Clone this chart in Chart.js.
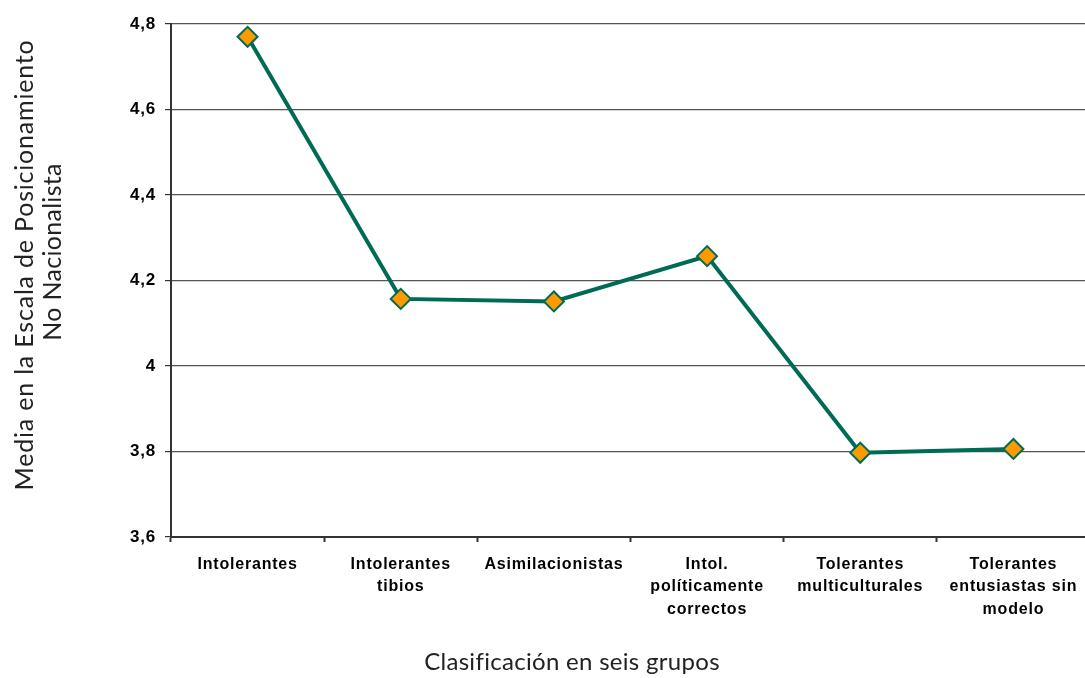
<!DOCTYPE html>
<html>
<head>
<meta charset="utf-8">
<script src="https://cdn.jsdelivr.net/npm/chart.js@4.4.0/dist/chart.umd.min.js"></script>
<style>
  html, body { margin: 0; padding: 0; background: #fff; overflow: hidden; }
  #wrap { width: 1090px; height: 678px; }
</style>
</head>
<body>
<div id="wrap"><canvas id="chart" width="1090" height="678"></canvas></div>
<script>
// Data
const groups = [
  ['Intolerantes'],
  ['Intolerantes', 'tibios'],
  ['Asimilacionistas'],
  ['Intol.', 'políticamente', 'correctos'],
  ['Tolerantes', 'multiculturales'],
  ['Tolerantes', 'entusiastas sin', 'modelo']
];
const meanValues = [4.77, 4.157, 4.151, 4.257, 3.797, 3.806];
const yTicks = [3.6, 3.8, 4.0, 4.2, 4.4, 4.6, 4.8];

const xTitle = 'Clasificación en seis grupos';
const yTitle = ['Media en la Escala de Posicionamiento', 'No Nacionalista'];

const tickFont = { family: "'Liberation Sans', Arial, sans-serif", size: 17, weight: 'bold' };

// Axis titles drawn in a humanist face, placed like the original
const axisTitles = {
  id: 'axisTitles',
  beforeDraw(chart) {
    chart.ctx.letterSpacing = '0.8px';
  },
  afterDraw(chart) {
    const ctx = chart.ctx;
    ctx.save();
    ctx.fillStyle = '#222222';
    ctx.textAlign = 'center';
    ctx.textBaseline = 'middle';
    ctx.letterSpacing = '0.3px';
    ctx.font = "24px Lato, 'Open Sans', sans-serif";
    ctx.fillText(xTitle, 572, 662);

    ctx.letterSpacing = '0.8px';
    ctx.font = "25px Lato, 'Open Sans', sans-serif";
    ctx.translate(25, 265);
    ctx.rotate(-Math.PI / 2);
    ctx.fillText(yTitle[0], 0, 0);
    ctx.letterSpacing = '0.3px';
    ctx.fillText(yTitle[1], 13, 28);
    ctx.restore();
  }
};

new Chart(document.getElementById('chart'), {
  type: 'line',
  data: {
    labels: groups,
    datasets: [
      {
        data: meanValues,
        borderColor: '#006B54',
        borderWidth: 4,
        tension: 0,
        pointStyle: 'rectRot',
        pointRadius: 10,
        pointHoverRadius: 10,
        pointBackgroundColor: '#FF9900',
        pointBorderColor: '#006B54',
        pointBorderWidth: 2,
        clip: false
      }
    ]
  },
  options: {
    responsive: false,
    animation: false,
    events: [],
    layout: { autoPadding: false, padding: { top: 24, right: 0, left: 0, bottom: 0 } },
    plugins: {
      legend: { display: false },
      tooltip: { enabled: false }
    },
    scales: {
      x: {
        offset: true,
        grid: {
          offset: true,
          drawOnChartArea: false,
          drawTicks: true,
          tickLength: 5,
          tickColor: '#333333',
          tickWidth: 2
        },
        border: { color: '#333333', width: 2 },
        ticks: {
          color: '#000000',
          font: { ...tickFont, size: 16, lineHeight: 1.42 },
          padding: 11,
          maxRotation: 0,
          autoSkip: false
        },
        afterFit(scale) { scale.height = 141; }
      },
      y: {
        min: 3.6,
        max: 4.8,
        afterBuildTicks(scale) { scale.ticks = yTicks.map(v => ({ value: v })); },
        grid: {
          color: '#555555',
          lineWidth: 1.2,
          tickLength: 6,
          tickColor: '#333333'
        },
        border: { color: '#333333', width: 2 },
        ticks: {
          color: '#000000',
          font: tickFont,
          padding: 9,
          callback: (v) => String(Number(v.toFixed(1))).replace('.', ',')
        },
        afterFit(scale) { scale.width = 171; }
      }
    }
  },
  plugins: [axisTitles]
});
</script>
</body>
</html>
